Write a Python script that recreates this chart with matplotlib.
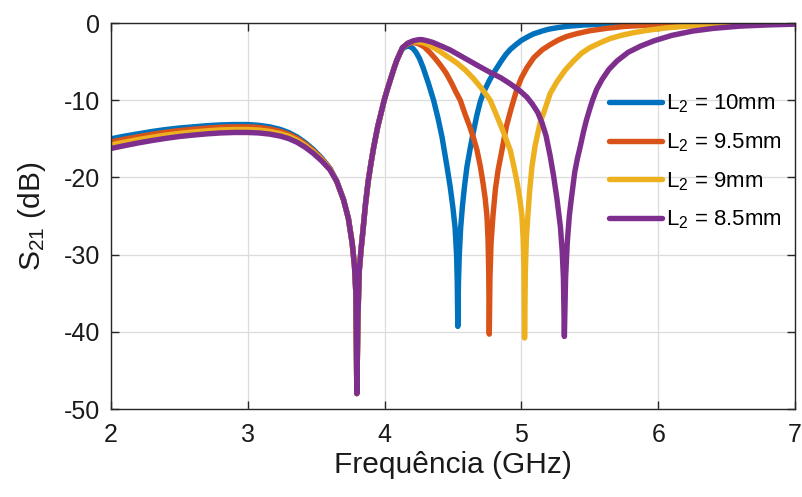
import matplotlib
matplotlib.use("Agg")
import matplotlib.pyplot as plt

plt.rcParams["font.family"] = ["Liberation Sans", "DejaVu Sans"]
plt.rcParams["mathtext.fontset"] = "custom"
plt.rcParams["mathtext.rm"] = "Liberation Sans"
plt.rcParams["mathtext.it"] = "Liberation Sans:italic"
plt.rcParams["mathtext.bf"] = "Liberation Sans:bold"

# ---- S21 samples: frequency in GHz, magnitude in dB ----
# shared stop band around 3.8 GHz and the rising edge up to 4.11 GHz
f_shared = [3.65, 3.70, 3.735, 3.763, 3.78, 3.79, 3.797, 3.805, 3.815, 3.828,
            3.84, 3.86, 3.88, 3.90, 3.92, 3.95, 3.975, 3.997, 4.02, 4.045,
            4.07, 4.09, 4.11]
s_shared = [-20.5, -22.9, -25.3, -28.5, -31.5, -35.0, -48.0, -38.0, -32.0, -29.3,
            -27.2, -23.5, -20.5, -18.2, -16.1, -13.4, -11.6, -10.0, -8.6, -7.2,
            -5.8, -4.8, -4.0]

# lower pass band, one list per stub length
f_low = [2.0, 2.1, 2.2, 2.3, 2.4, 2.5, 2.6, 2.7, 2.8, 2.9, 3.0, 3.08, 3.16,
         3.24, 3.3, 3.36, 3.42, 3.48, 3.54, 3.6]
s_low_10 = [-15.0, -14.65, -14.35, -14.05, -13.8, -13.6, -13.45, -13.3, -13.2,
            -13.15, -13.15, -13.25, -13.45, -13.8, -14.2, -14.75, -15.5, -16.4,
            -17.5, -18.8]
s_low_95 = [-15.4, -15.05, -14.72, -14.42, -14.15, -13.93, -13.77, -13.62, -13.5,
            -13.45, -13.45, -13.53, -13.72, -14.05, -14.42, -14.95, -15.68, -16.55,
            -17.6, -18.85]
s_low_9 = [-15.8, -15.43, -15.1, -14.8, -14.52, -14.3, -14.12, -13.97, -13.85,
           -13.8, -13.8, -13.87, -14.04, -14.34, -14.68, -15.18, -15.88, -16.72,
           -17.72, -18.92]
s_low_85 = [-16.25, -15.88, -15.53, -15.22, -14.94, -14.7, -14.52, -14.36, -14.24,
            -14.18, -14.18, -14.24, -14.39, -14.66, -14.98, -15.45, -16.1, -16.9,
            -17.86, -19.0]

# upper band for each stub length (second notch and recovery)
f_up_10 = [4.13, 4.155, 4.18, 4.205, 4.23, 4.255, 4.28, 4.32, 4.358, 4.39, 4.42,
           4.456, 4.48, 4.50, 4.515, 4.526, 4.531, 4.535, 4.54, 4.546, 4.556,
           4.57, 4.585, 4.602, 4.626, 4.65, 4.675, 4.699, 4.725, 4.77, 4.81, 4.85,
           4.885, 4.92, 4.96, 5.0, 5.05, 5.09, 5.15, 5.2, 5.27, 5.34, 5.45, 5.6,
           5.8, 6.0, 6.5, 7.0]
s_up_10 = [-3.35, -3.05, -3.0, -3.25, -3.8, -4.6, -5.7, -7.8, -10.0, -12.3, -14.8,
           -18.6, -21.3, -24.0, -26.5, -30.0, -33.5, -39.3, -33.5, -30.0, -26.5,
           -23.5, -21.0, -18.6, -16.2, -14.0, -11.9, -10.2, -8.9, -7.3, -6.1, -5.0,
           -4.1, -3.4, -2.8, -2.25, -1.75, -1.4, -1.05, -0.8, -0.58, -0.42, -0.26, -0.15,
           -0.08, -0.05, -0.02, 0.0]

f_up_95 = [4.13, 4.17, 4.21, 4.25, 4.29, 4.33, 4.37, 4.41, 4.45, 4.49, 4.52,
           4.553, 4.59, 4.62, 4.65, 4.675, 4.70, 4.72, 4.735, 4.748, 4.756, 4.761,
           4.765, 4.77, 4.778, 4.792, 4.81, 4.83, 4.858, 4.89, 4.92, 4.943, 4.97,
           5.0, 5.04, 5.09, 5.15, 5.21, 5.27, 5.33, 5.4, 5.5, 5.62, 5.75, 5.9, 6.1,
           6.4, 7.0]
s_up_95 = [-3.2, -2.7, -2.5, -2.7, -3.1, -3.8, -4.6, -5.5, -6.5, -7.8, -8.9,
           -10.0, -11.9, -13.3, -14.9, -16.45, -18.6, -20.8, -22.7, -25.0, -28.0, -32.0,
           -40.3, -33.0, -28.5, -25.0, -21.5, -19.0, -16.45, -13.4, -11.4, -10.0, -8.4,
           -7.1, -5.8, -4.5, -3.5, -2.8, -2.2, -1.75, -1.4, -1.0, -0.7, -0.45, -0.3, -0.18,
           -0.08, -0.02]

f_up_9 = [4.13, 4.17, 4.21, 4.25, 4.29, 4.33, 4.38, 4.43, 4.48, 4.53, 4.59, 4.65,
          4.71, 4.772, 4.81, 4.85, 4.885, 4.919, 4.945, 4.97, 4.99, 5.004, 5.013,
          5.019, 5.023, 5.029, 5.036, 5.047, 5.06, 5.077, 5.10, 5.138, 5.16, 5.211,
          5.26, 5.32, 5.382, 5.44, 5.5, 5.577, 5.65, 5.73, 5.82, 5.92, 6.05, 6.2,
          6.4, 6.7, 7.0]
s_up_9 = [-3.2, -2.6, -2.4, -2.45, -2.6, -2.9, -3.4, -4.0, -4.6, -5.2, -6.1, -7.2,
          -8.5, -10.0, -11.6, -13.3, -14.9, -16.5, -18.6, -20.8, -23.0, -25.0, -28.0,
          -32.0, -40.8, -32.0, -28.0, -25.0, -21.8, -18.6, -15.9, -12.8, -11.8, -9.1,
          -7.6, -6.1, -4.9, -3.9, -3.2, -2.55, -2.0, -1.6, -1.25, -0.95, -0.65, -0.42,
          -0.25, -0.1, -0.04]

f_up_85 = [4.13, 4.17, 4.21, 4.25, 4.273, 4.31, 4.35, 4.39, 4.43, 4.48, 4.53,
           4.59, 4.65, 4.71, 4.772, 4.85, 4.92, 4.99, 5.04, 5.08, 5.12, 5.15, 5.18,
           5.21, 5.236, 5.26, 5.285, 5.298, 5.307, 5.314, 5.323, 5.335, 5.35, 5.366,
           5.39, 5.41, 5.43, 5.455, 5.475, 5.50, 5.52, 5.55, 5.59, 5.64, 5.70, 5.78,
           5.87, 5.97, 6.1, 6.25, 6.4, 6.6, 6.8, 7.0]
s_up_85 = [-3.2, -2.6, -2.3, -2.15, -2.15, -2.3, -2.5, -2.8, -3.1, -3.5, -4.0,
           -4.6, -5.2, -5.8, -6.4, -7.1, -7.9, -8.8, -9.6, -10.5, -11.6, -12.9, -14.6,
           -17.2, -19.9, -22.8, -26.4, -29.5, -33.0, -40.6, -33.0, -28.5, -25.0, -22.6,
           -19.3, -17.5, -16.0, -14.0, -12.6, -11.1, -10.0, -8.6, -7.3, -6.0, -4.9, -3.8,
           -3.0, -2.3, -1.6, -1.05, -0.7, -0.4, -0.25, -0.15]

labels = ["L$_2$ = 10mm", "L$_2$ = 9.5mm", "L$_2$ = 9mm", "L$_2$ = 8.5mm"]
colors = ["#0072BD", "#D95319", "#EDB120", "#7E2F8E"]
x_ticks = [2, 3, 4, 5, 6, 7]
y_ticks = [0, -10, -20, -30, -40, -50]

curves = [
    (f_low + f_shared + f_up_10, s_low_10 + s_shared + s_up_10),
    (f_low + f_shared + f_up_95, s_low_95 + s_shared + s_up_95),
    (f_low + f_shared + f_up_9, s_low_9 + s_shared + s_up_9),
    (f_low + f_shared + f_up_85, s_low_85 + s_shared + s_up_85),
]

fig = plt.figure(figsize=(8.02, 4.97), dpi=100)
ax = fig.add_axes([0.1384, 0.177, 0.8529, 0.7767])

for (f, s), c, lab in zip(curves, colors, labels):
    ax.plot(f, s, color=c, lw=3.9, label=lab, solid_joinstyle="round",
            solid_capstyle="round")

ax.set_xlim(2, 7)
ax.set_ylim(-50, 0)
ax.set_xticks(x_ticks)
ax.set_yticks(y_ticks)
ax.set_xticklabels([str(v) for v in x_ticks])
ax.set_yticklabels([str(v) for v in y_ticks])

axis_col = "#262626"
for sp in ax.spines.values():
    sp.set_color(axis_col)
    sp.set_linewidth(1.0)
ax.tick_params(direction="in", length=6, width=1.0, color=axis_col,
               labelsize=18, labelcolor="#1a1a1a", top=True, right=True)
ax.tick_params(axis="x", pad=10)
ax.tick_params(axis="y", pad=8)
ax.grid(True, color="#dcdcdc", linewidth=0.9)
ax.set_axisbelow(True)

ax.set_xlabel("Frequência (GHz)", fontsize=21.5, color="#1a1a1a", labelpad=3)
ax.set_ylabel("S$_{21}$ (dB)", fontsize=21.5, color="#1a1a1a", labelpad=11)

leg = ax.legend(loc="center left", bbox_to_anchor=(0.728, 0.64), frameon=False,
                fontsize=16, handlelength=2.4, handletextpad=0.15,
                labelspacing=0.72, borderaxespad=0, borderpad=0)

fig.savefig("out.png", dpi=100)
